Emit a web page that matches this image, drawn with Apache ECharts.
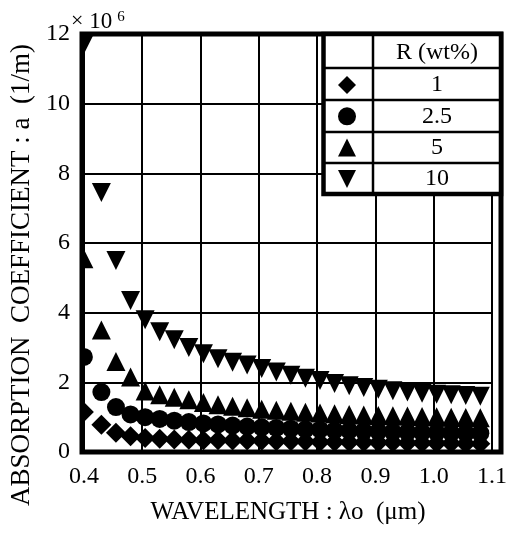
<!DOCTYPE html>
<html><head><meta charset="utf-8">
<script src="https://cdn.jsdelivr.net/npm/echarts@6/dist/echarts.min.js"></script>
<style>html,body{margin:0;padding:0;background:#fff}#c{width:510px;height:533px}</style>
</head><body><div id="c"></div>
<script>
// wavelength (µm)
const wavelength = [0.40, 0.43, 0.455, 0.48, 0.505, 0.53, 0.555, 0.58, 0.605, 0.63, 0.655, 0.68, 0.705, 0.73,
  0.755, 0.78, 0.805, 0.83, 0.855, 0.88, 0.905, 0.93, 0.955, 0.98, 1.005, 1.03, 1.055, 1.08];
// absorption coefficient (x10^6 1/m)
const r1 = [1.15, 0.78, 0.55, 0.45, 0.40, 0.38, 0.36, 0.35, 0.34, 0.34, 0.33, 0.33, 0.32, 0.31,
  0.31, 0.30, 0.29, 0.29, 0.28, 0.28, 0.27, 0.27, 0.26, 0.26, 0.25, 0.25, 0.24, 0.24];
const r25 = [2.73, 1.72, 1.29, 1.08, 1.00, 0.95, 0.90, 0.86, 0.82, 0.79, 0.76, 0.73, 0.71, 0.69,
  0.67, 0.65, 0.64, 0.62, 0.61, 0.60, 0.59, 0.58, 0.57, 0.56, 0.56, 0.55, 0.54, 0.54];
const r5 = [5.55, 3.50, 2.60, 2.15, 1.75, 1.64, 1.57, 1.50, 1.42, 1.36, 1.31, 1.27, 1.23, 1.20,
  1.17, 1.14, 1.12, 1.10, 1.08, 1.06, 1.05, 1.04, 1.03, 1.02, 1.01, 1.00, 0.99, 0.98];
const r10 = [11.7, 7.45, 5.50, 4.35, 3.80, 3.45, 3.22, 3.00, 2.82, 2.68, 2.58, 2.50, 2.40, 2.30,
  2.20, 2.12, 2.05, 1.97, 1.90, 1.85, 1.80, 1.76, 1.72, 1.69, 1.66, 1.64, 1.62, 1.60];
const seriesNames = ['1', '2.5', '5', '10'];
const legendTitle = 'R (wt%)';
const xTitle = 'WAVELENGTH : λo  (μm)';
const yTitle = 'ABSORPTION  COEFFICIENT : a  (1/m)';

const FONT = 'Liberation Serif';
const pair = arr => arr.map((v, i) => [wavelength[i], v]);
const downTri = 'path://M0,0L10,0L5,10Z';

const chart = echarts.init(document.getElementById('c'));
const mk = (name, data, symbol, size) => ({
  name, type: 'scatter', data: pair(data), symbol, symbolSize: size,
  itemStyle: { color: '#000', opacity: 1 }, z: 2, clip: false,
  emphasis: { disabled: true }
});
chart.setOption({
  animation: false,
  backgroundColor: '#fff',
  grid: { left: 82, right: 9, top: 34, bottom: 81 },
  xAxis: {
    type: 'value', min: 0.4, max: 1.1, interval: 0.1, z: 5,
    axisLine: { show: false }, axisTick: { show: false },
    splitLine: { show: true, lineStyle: { color: '#000', width: 2 } },
    axisLabel: { fontFamily: FONT, fontSize: 24, color: '#000', margin: 13,
      formatter: v => v.toFixed(1) },
    name: xTitle, nameLocation: 'middle', nameGap: 48,
    nameTextStyle: { fontFamily: FONT, fontSize: 25, color: '#000' }
  },
  yAxis: {
    type: 'value', min: 0, max: 12, interval: 2, z: 5,
    axisLine: { show: false }, axisTick: { show: false },
    splitLine: { show: true, lineStyle: { color: '#000', width: 2 } },
    axisLabel: { fontFamily: FONT, fontSize: 24, color: '#000', margin: 14 },
    name: yTitle, nameLocation: 'middle', nameGap: 46,
    nameTextStyle: { fontFamily: FONT, fontSize: 27, color: '#000', padding: [0, 64, 0, 0] }
  },
  legend: {
    orient: 'vertical', left: 338, top: 73, padding: 0, itemWidth: 18, itemHeight: 18, itemGap: 7.3,
    z: 7, selectedMode: false, data: seriesNames,
    formatter: '{a|{name}}',
    textStyle: { fontFamily: FONT, fontSize: 24, color: '#000',
      rich: { a: { width: 152, align: 'center', fontFamily: FONT, fontSize: 24, color: '#000' } } }
  },
  graphic: [
    // masks to clip markers at the frame
    { type: 'rect', z: 3, shape: { x: 0, y: 0, width: 80, height: 533 }, style: { fill: '#fff' } },
    { type: 'rect', z: 3, shape: { x: 0, y: 0, width: 510, height: 33 }, style: { fill: '#fff' } },
    { type: 'rect', z: 3, shape: { x: 503, y: 0, width: 7, height: 533 }, style: { fill: '#fff' } },
    { type: 'rect', z: 3, shape: { x: 0, y: 454, width: 510, height: 79 }, style: { fill: '#fff' } },
    // frame
    { type: 'rect', z: 5, shape: { x: 82, y: 34, width: 419, height: 418 },
      style: { fill: 'none', stroke: '#000', lineWidth: 5 } },
    // legend table
    { type: 'rect', z: 6, shape: { x: 323.5, y: 34, width: 177.5, height: 160 },
      style: { fill: '#fff', stroke: '#000', lineWidth: 4.5 } },
    { type: 'line', z: 6, shape: { x1: 373, y1: 34, x2: 373, y2: 194 }, style: { stroke: '#000', lineWidth: 2.5 } },
    { type: 'line', z: 6, shape: { x1: 323, y1: 68, x2: 501, y2: 68 }, style: { stroke: '#000', lineWidth: 2.5 } },
    { type: 'line', z: 6, shape: { x1: 323, y1: 100, x2: 501, y2: 100 }, style: { stroke: '#000', lineWidth: 2.5 } },
    { type: 'line', z: 6, shape: { x1: 323, y1: 132, x2: 501, y2: 132 }, style: { stroke: '#000', lineWidth: 2.5 } },
    { type: 'line', z: 6, shape: { x1: 323, y1: 163, x2: 501, y2: 163 }, style: { stroke: '#000', lineWidth: 2.5 } },
    { type: 'text', z: 7, x: 437, y: 53,
      style: { text: legendTitle, fontFamily: FONT, fontSize: 24, fill: '#000', align: 'center', verticalAlign: 'middle' } },
    // exponent
    { type: 'text', z: 10, x: 71, y: 10,
      style: { text: '{a|×}{b| 10}{c|6}', fontFamily: FONT, fill: '#000',
        rich: { a: { fontSize: 22, fontFamily: FONT, fill: '#000' }, b: { fontSize: 23, fontFamily: FONT, fill: '#000' },
                c: { fontSize: 15, fontFamily: FONT, fill: '#000', verticalAlign: 'top', padding: [0, 0, 0, 5] } } } }
  ],
  series: [
    mk(seriesNames[0], r1, 'diamond', 20),
    mk(seriesNames[1], r25, 'circle', 18),
    mk(seriesNames[2], r5, 'triangle', 19),
    mk(seriesNames[3], r10, downTri, 19)
  ]
});
</script></body></html>
